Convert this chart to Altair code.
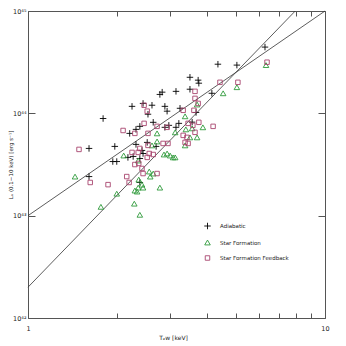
import altair as alt
import pandas as pd

# ---- data ----
adi_T = [1.79, 1.605, 1.96, 1.93, 1.99, 1.605, 2.24, 2.44, 2.615, 2.535, 2.78, 2.83, 2.89, 2.94,
         3.15, 3.25, 3.51, 3.51, 3.68, 3.74, 3.76, 4.36, 5.05, 6.28, 4.16, 3.57, 2.31, 2.20,
         2.38, 2.64, 2.89, 2.98, 3.15, 3.22, 2.52, 2.31, 2.42, 2.44, 2.17, 2.38, 2.70, 2.26, 2.38]
adi_L = [8.9e43, 4.54e43, 4.75e43, 3.38e43, 3.38e43, 2.41e43, 1.17e44, 1.25e44, 1.20e44, 9.8e43,
         1.53e44, 1.61e44, 1.17e44, 1.05e44, 1.64e44, 1.12e44, 2.25e44, 1.72e44, 1.02e44, 2.11e44,
         1.97e44, 3.02e44, 2.96e44, 4.44e44, 1.57e44, 8.2e43, 6.97e43, 6.37e43, 7.46e43, 8.17e43,
         7.3e43, 7.63e43, 7.3e43, 7.98e43, 5.2e43, 4.97e43, 4.34e43, 4.05e43, 3.71e43, 3.62e43,
         4.75e43, 3.79e43, 2.11e43]

sf_T = [1.44, 1.99, 1.76, 3.38, 3.71, 3.40, 3.57, 3.51, 3.71, 3.13, 2.72, 3.38, 2.72, 2.615,
        2.87, 2.94, 3.01, 3.08, 3.13, 2.10, 2.35, 2.56, 2.64, 2.58, 2.36, 2.42, 2.35, 2.44,
        2.29, 2.33, 2.78, 2.28, 2.38, 6.33, 5.05, 4.54, 3.88]
sf_L = [2.41e43, 1.64e43, 1.22e43, 9.35e43, 1.22e44, 6.97e43, 7.13e43, 5.82e43, 5.82e43, 6.52e43,
        6.37e43, 4.86e43, 5.31e43, 4.86e43, 3.96e43, 4.05e43, 3.87e43, 3.71e43, 3.71e43, 3.87e43,
        3.46e43, 2.70e43, 2.58e43, 2.41e43, 2.25e43, 2.01e43, 1.88e43, 1.88e43, 1.76e43, 1.72e43,
        1.88e43, 1.31e43, 1.02e43, 2.96e44, 1.80e44, 1.57e44, 7.3e43]

sfb_T = [1.485, 1.62, 1.86, 3.65, 2.46, 2.52, 3.33, 3.74, 3.65, 2.09, 2.29, 2.46, 2.72, 2.535,
         2.94, 3.46, 3.76, 3.33, 3.65, 3.43, 3.38, 3.59, 4.20, 3.62, 4.43, 5.09, 6.38, 2.24,
         2.35, 2.535, 2.85, 2.96, 3.46, 2.64, 2.56, 2.29, 2.36, 2.42, 2.44, 2.72, 2.15, 2.19,
         2.52, 2.38]
sfb_L = [4.44e43, 2.11e43, 2.01e43, 1.64e44, 1.20e44, 1.05e44, 1.07e44, 1.25e44, 1.40e44, 6.8e43,
         6.37e43, 7.98e43, 7.46e43, 6.37e43, 7.3e43, 7.98e43, 8.17e43, 6.09e43, 6.52e43, 5.82e43,
         5.2e43, 7.63e43, 7.46e43, 1.07e44, 2.01e44, 2.01e44, 3.16e44, 4.15e43, 4.15e43, 4.86e43,
         5.08e43, 5.08e43, 5.08e43, 3.96e43, 4.05e43, 3.16e43, 3.24e43, 2.89e43, 2.58e43, 2.58e43,
         2.41e43, 2.11e43, 3.71e43, 4.54e43]

series_names = ["Adiabatic", "Star Formation", "Star Formation Feedback"]

# fitted power laws (end points of the two straight lines)
fit_names = ["L ~ T^2", "L ~ T^3"]
fit_T = [[1.0, 10.0], [1.0, 7.94]]
fit_L = [[1e43, 1e45], [2e42, 1e45]]

x_ticks = [1, 2, 3, 4, 5, 6, 7, 8, 9, 10]
x_tick_labels = {1: "1", 10: "10"}
y_ticks = [1e42, 1e43, 1e44, 1e45]
y_tick_labels = ["10⁴²", "10⁴³", "10⁴⁴", "10⁴⁵"]

# ---- tables ----
rows = []
for name, Ts, Ls in zip(series_names, [adi_T, sf_T, sfb_T], [adi_L, sf_L, sfb_L]):
    for t, l in zip(Ts, Ls):
        rows.append({"T": t, "L": l, "series": name})
pts_df = pd.DataFrame(rows)

lrows = []
for name, Ts, Ls in zip(fit_names, fit_T, fit_L):
    for t, l in zip(Ts, Ls):
        lrows.append({"T": t, "L": l, "fit": name})
line_df = pd.DataFrame(lrows)

# ---- styling ----
W, H = 297, 307
FONT = "DejaVu Sans"
TXT = "#222222"
AX = "#555555"

xs = alt.Scale(type="log", domain=[1, 10], nice=False)
ys = alt.Scale(type="log", domain=[1e42, 1e45], nice=False)

x_expr = " : ".join(f"datum.value == {k} ? '{v}'" for k, v in x_tick_labels.items()) + " : ''"
y_expr = ("[" + ",".join(f"'{s}'" for s in y_tick_labels) + "][indexof(["
          + ",".join(repr(v) for v in y_ticks) + "], datum.value)]")

xaxis = alt.Axis(values=x_ticks, labelExpr=x_expr, ticks=False, domain=False,
                 grid=True, gridColor=AX, gridWidth=1, gridOpacity=1,
                 gridDash=[5, H - 10, 5, 1000],
                 labelFont=FONT, labelFontSize=6.5, labelColor=TXT, labelPadding=7,
                 labelFlush=False, labelOverlap=False,
                 title="Tₑw [keV]", titleFont=FONT, titleFontSize=6, titleFontWeight="normal",
                 titleColor=TXT, titleX=145, titleY=19, titleBaseline="middle")

yaxis = alt.Axis(values=y_ticks, labelExpr=y_expr, ticks=False, domain=False,
                 grid=True, gridColor=AX, gridWidth=1, gridOpacity=1,
                 gridDash=[7, W - 14, 7, 1000],
                 labelFont=FONT, labelFontSize=6.5, labelColor=TXT, labelPadding=2,
                 labelFlush=False, labelOverlap=False,
                 title="Lₓ (0.1−10 keV) [erg s⁻¹]", titleFont=FONT, titleFontSize=5.5,
                 titleFontWeight="normal", titleColor=TXT, titleX=-20, titleBaseline="top")

legend = alt.Legend(orient="none", legendX=175.5, legendY=211, title=None,
                    labelFont=FONT, labelFontSize=5.5, labelColor=TXT, labelOffset=8.5,
                    rowPadding=6, padding=0, symbolStrokeWidth=0.9)

pts = alt.Chart(pts_df).mark_point(filled=False, strokeWidth=0.9, opacity=1).encode(
    x=alt.X("T:Q", scale=xs, axis=xaxis),
    y=alt.Y("L:Q", scale=ys, axis=yaxis),
    shape=alt.Shape("series:N", scale=alt.Scale(domain=series_names,
                    range=["M-1,0H1M0,-1V1", "triangle-up", "square"]), legend=legend),
    color=alt.Color("series:N", scale=alt.Scale(domain=series_names,
                    range=["#000000", "#2e9a3a", "#a8456e"]), legend=legend),
    size=alt.Size("series:N", scale=alt.Scale(domain=series_names, range=[42, 20, 28]),
                  legend=legend),
)

lines = alt.Chart(line_df).mark_line(color="#333333", strokeWidth=0.8).encode(
    x=alt.X("T:Q", scale=xs),
    y=alt.Y("L:Q", scale=ys),
    detail="fit:N",
)

chart = alt.layer(lines, pts).properties(
    width=W, height=H,
    autosize=alt.AutoSizeParams(type="none"),
    padding={"left": 20, "top": 3, "right": 13, "bottom": 28},
    background="white",
).configure_view(stroke=AX, strokeWidth=1)

chart.save("out.html", embed_options={"renderer": "svg", "actions": False})
